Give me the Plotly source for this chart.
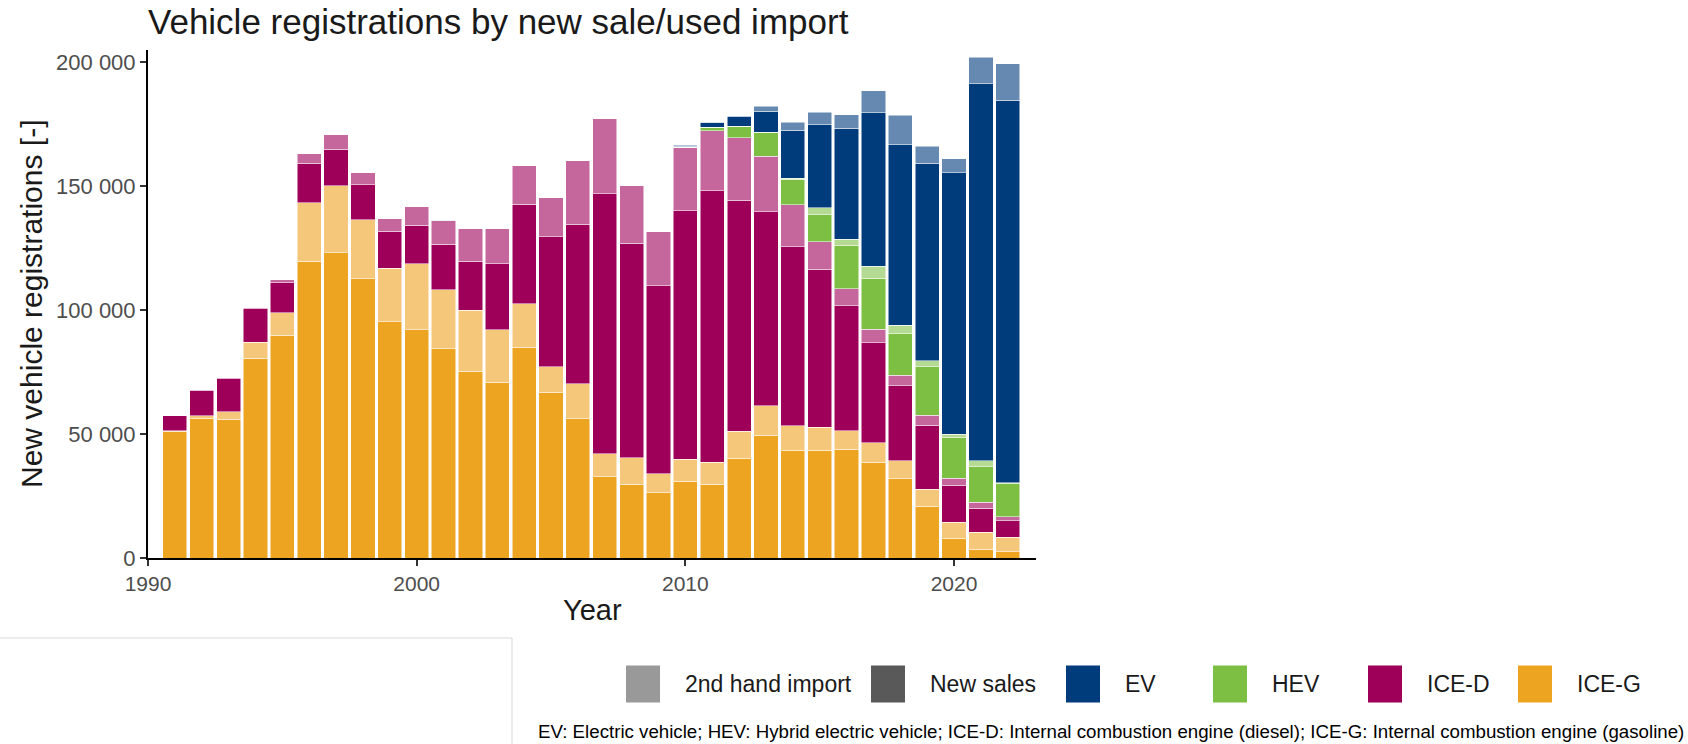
import plotly.graph_objects as go

# ---------------- data (vehicles, thousands) ----------------
years = list(range(1991, 2023))

ice_g_new = [51.2, 56.3, 56.0, 80.6, 89.9, 119.8, 123.2, 112.7, 95.4, 92.2,
             84.5, 75.4, 70.9, 85.0, 66.8, 56.2, 32.8, 29.8, 26.4, 31.0,
             29.8, 40.2, 49.6, 43.5, 43.5, 43.8, 38.6, 32.0, 20.8, 8.0,
             3.5, 2.5]
ice_g_imp = [0.2, 1.1, 3.0, 6.5, 9.1, 23.5, 27.1, 23.8, 21.6, 26.5,
             23.8, 24.6, 21.3, 17.6, 10.4, 14.1, 9.3, 10.7, 7.7, 8.9,
             8.8, 11.0, 11.8, 9.8, 9.2, 7.5, 8.0, 7.2, 7.0, 6.5,
             6.9, 5.9]
ice_d_new = [6.0, 10.3, 13.4, 13.5, 12.1, 16.0, 14.7, 14.1, 14.8, 15.5,
             18.4, 19.7, 26.5, 40.1, 52.4, 64.4, 104.9, 86.5, 75.8, 100.2,
             109.6, 93.1, 78.4, 72.4, 63.9, 50.5, 40.3, 30.3, 25.8, 14.9,
             9.6, 6.6]
ice_d_imp = [0.2, 0.2, 0.3, 0.5, 1.1, 3.8, 5.9, 4.9, 5.2, 7.5,
             9.4, 13.4, 14.1, 15.8, 15.7, 25.9, 30.2, 23.2, 22.0, 25.7,
             24.2, 25.3, 22.3, 16.8, 11.1, 6.9, 5.5, 4.3, 4.0, 2.8,
             2.5, 1.7]
hev_new = [0, 0, 0, 0, 0, 0, 0, 0, 0, 0,
           0, 0, 0, 0, 0, 0, 0, 0, 0, 0,
           1.3, 4.4, 9.5, 10.4, 10.9, 17.6, 20.4, 16.6, 19.5, 16.5,
           14.3, 13.4]
hev_imp = [0, 0, 0, 0, 0, 0, 0, 0, 0, 0,
           0, 0, 0, 0, 0, 0, 0, 0, 0, 0,
           0.1, 0.2, 0.3, 0.4, 2.7, 2.4, 4.9, 3.5, 2.6, 1.3,
           2.4, 0.3]
ev_new = [0, 0, 0, 0, 0, 0, 0, 0, 0, 0.1,
          0.1, 0.2, 0.1, 0, 0, 0, 0, 0, 0, 0.3,
          1.8, 4.0, 8.4, 19.4, 33.5, 44.8, 62.0, 72.8, 79.5, 105.5,
          152.1, 154.3]
ev_imp = [0, 0, 0, 0, 0, 0, 0, 0, 0, 0,
          0, 0, 0, 0, 0, 0, 0, 0, 0, 0.5,
          0.3, 0.3, 2.0, 3.1, 5.1, 5.4, 8.8, 11.9, 7.0, 5.6,
          10.7, 14.7]

y_tick_vals = [0, 50000, 100000, 150000, 200000]
y_tick_text = ["0", "50 000", "100 000", "150 000", "200 000"]
x_tick_vals = [1990, 2000, 2010, 2020]

series = [
    ("ICE-G new sales", ice_g_new, "#EDA421"),
    ("ICE-G 2nd hand import", ice_g_imp, "#F4C77A"),
    ("ICE-D new sales", ice_d_new, "#9E0059"),
    ("ICE-D 2nd hand import", ice_d_imp, "#C5679D"),
    ("HEV new sales", hev_new, "#7DBF42"),
    ("HEV 2nd hand import", hev_imp, "#B5DA93"),
    ("EV new sales", ev_new, "#003B7C"),
    ("EV 2nd hand import", ev_imp, "#6589B1"),
]

legend_items = [
    ("2nd hand import", "#999999"),
    ("New sales", "#595959"),
    ("EV", "#003B7C"),
    ("HEV", "#7DBF42"),
    ("ICE-D", "#9E0059"),
    ("ICE-G", "#EDA421"),
]

# ---------------- layout geometry (pixels) ----------------
W, H = 1688, 744
L, R, T, B = 148, 1036, 50, 558


def px(x):
    return (x - L) / (R - L)


def py(y):
    return (B - y) / (B - T)


fig = go.Figure()
for name, vals, col in series:
    fig.add_trace(go.Bar(
        x=years, y=[v * 1000 for v in vals], name=name, width=0.9,
        marker=dict(color=col, line=dict(color="rgba(255,255,255,0.85)", width=0.6)),
        showlegend=False,
    ))

FONT = "Liberation Sans, Arial, sans-serif"

fig.update_layout(
    width=W, height=H,
    barmode="stack",
    plot_bgcolor="white", paper_bgcolor="white",
    margin=dict(l=L, r=W - R, t=T, b=H - B, pad=0),
    font=dict(family=FONT, color="#1a1a1a"),
    title=dict(text="Vehicle registrations by new sale/used import",
               x=L / W, xanchor="left", xref="container",
               y=1 - 22 / H, yanchor="middle", yref="container",
               font=dict(size=35, color="#1a1a1a", family=FONT)),
    showlegend=False,
)

fig.update_xaxes(range=[1990, 2023.05], tickvals=x_tick_vals,
                 showgrid=False, zeroline=False,
                 showline=True, linecolor="black", linewidth=2,
                 ticks="outside", ticklen=6, tickwidth=1.5, tickcolor="#333333",
                 tickfont=dict(size=21, color="#4D4D4D", family=FONT))
fig.update_yaxes(range=[0, 205000], tickvals=y_tick_vals, ticktext=y_tick_text,
                 showgrid=False, zeroline=False,
                 showline=True, linecolor="black", linewidth=2,
                 ticks="outside", ticklen=6, tickwidth=1.5, tickcolor="#333333",
                 tickfont=dict(size=22, color="#4D4D4D", family=FONT))

annotations = []
shapes = []

# axis titles
annotations.append(dict(text="New vehicle registrations [-]", textangle=-90,
                        xref="paper", yref="paper", x=px(31), y=0.5,
                        xanchor="center", yanchor="middle", showarrow=False,
                        font=dict(size=30, color="#1a1a1a", family=FONT)))
annotations.append(dict(text="Year", xref="paper", yref="paper",
                        x=0.5, y=py(610), xanchor="center", yanchor="middle",
                        showarrow=False, font=dict(size=29, color="#1a1a1a", family=FONT)))

# custom legend
sq_x = [626, 871, 1066, 1213, 1368, 1518]
sq_w, sq_h = 34, 37
leg_cy = 684
for (lab, col), x0 in zip(legend_items, sq_x):
    shapes.append(dict(type="rect", xref="paper", yref="paper",
                       x0=px(x0), x1=px(x0 + sq_w),
                       y0=py(leg_cy + sq_h / 2), y1=py(leg_cy - sq_h / 2),
                       fillcolor=col, line=dict(width=0)))
    annotations.append(dict(text=lab, xref="paper", yref="paper",
                            x=px(x0 + 57), y=py(leg_cy),
                            xanchor="left", yanchor="middle", showarrow=False,
                            font=dict(size=23, color="#1a1a1a", family=FONT)))

# caption
annotations.append(dict(
    text="EV: Electric vehicle; HEV: Hybrid electric vehicle; ICE-D: Internal combustion engine (diesel); ICE-G: Internal combustion engine (gasoline)",
    xref="paper", yref="paper", x=px(1686), y=py(731),
    xanchor="right", yanchor="middle", showarrow=False,
    font=dict(size=18.7, color="black", family=FONT)))

# light grey frame lines in the bottom-left
shapes.append(dict(type="line", xref="paper", yref="paper",
                   x0=px(0), x1=px(512), y0=py(638), y1=py(638),
                   line=dict(color="#D9D9D9", width=1)))
shapes.append(dict(type="line", xref="paper", yref="paper",
                   x0=px(512), x1=px(512), y0=py(638), y1=py(744),
                   line=dict(color="#D9D9D9", width=1)))

fig.update_layout(annotations=annotations, shapes=shapes)

fig.write_html("out.html", config={"displayModeBar": False},
               post_script="document.body.style.margin='0';document.body.style.overflow='hidden';")
